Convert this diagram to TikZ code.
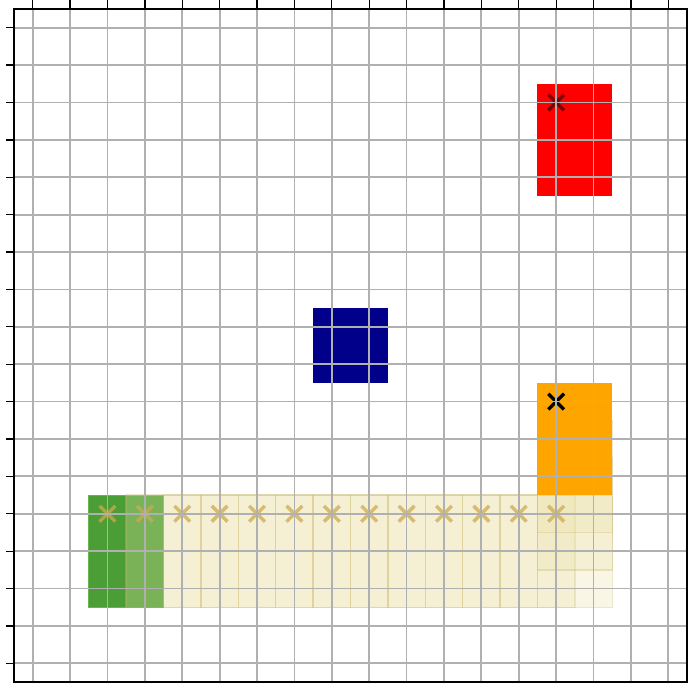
\documentclass[tikz,border=0pt]{standalone}
\definecolor{grd}{RGB}{176,176,176}
\definecolor{trail}{RGB}{235,225,170}
\definecolor{trailedge}{RGB}{200,185,110}
\definecolor{startgreen}{RGB}{74,158,53}
\definecolor{startedge}{RGB}{105,180,80}
\definecolor{navyblue}{RGB}{0,0,139}
\definecolor{goalorange}{RGB}{255,165,0}
\definecolor{crosstan}{RGB}{205,170,80}
\definecolor{darkcross}{RGB}{130,0,0}
\tikzset{
  gridline/.style={draw=grd, line width=1.35pt},
  framebox/.style={draw=black, line width=1.3pt},
  tickmark/.style={draw=black, line width=1pt},
  trailbox/.style={fill=trail, fill opacity=0.3, draw=trailedge, draw opacity=0.35, line width=1.1pt},
  crossline/.style={line width=2.6pt},
}
\begin{document}
\begin{tikzpicture}[x=1cm,y=-1cm]
\useasboundingbox (-0.874,-0.7405) rectangle (17.66,17.634);
% start block
\fill[startgreen, draw=startedge, line width=0.8pt] (1.5,12.5) rectangle (3.5,15.5);
% trail
\foreach \c in {3,...,14} {
  \path[trailbox] (\c-0.5,12.5) rectangle (\c+1.5,15.5);
}
\path[trailbox] (13.5,11.5) rectangle (15.5,14.5);
\path[trailbox] (13.5,10.5) rectangle (15.5,13.5);
% blocks
\fill[red] (13.5,1.5) rectangle (15.5,4.5);
\fill[navyblue] (7.5,7.5) rectangle (9.5,9.5);
\fill[goalorange] (13.5,9.5) rectangle (15.5,12.5);
% crosses
\foreach \c in {2,...,14} {
  \draw[crossline, crosstan, opacity=0.75] (\c-0.21,12.79) -- (\c+0.21,13.21) (\c-0.21,13.21) -- (\c+0.21,12.79);
}
\draw[crossline, darkcross] (13.79,1.79) -- (14.21,2.21) (13.79,2.21) -- (14.21,1.79);
\draw[crossline, black] (13.79,9.79) -- (14.21,10.21) (13.79,10.21) -- (14.21,9.79);
% grid
\foreach \k in {0,...,17} {
  \draw[gridline] (\k,-0.5) -- (\k,17.5);
  \draw[gridline] (-0.5,\k) -- (17.5,\k);
}
% ticks
\foreach \k in {0,...,17} {
  \draw[tickmark] (-0.5,\k) -- (-0.72,\k);
  \draw[tickmark] (\k,-0.5) -- (\k,-0.76);
}
% frame
\draw[framebox] (-0.5,-0.5) rectangle (17.5,17.5);
\end{tikzpicture}
\end{document}
